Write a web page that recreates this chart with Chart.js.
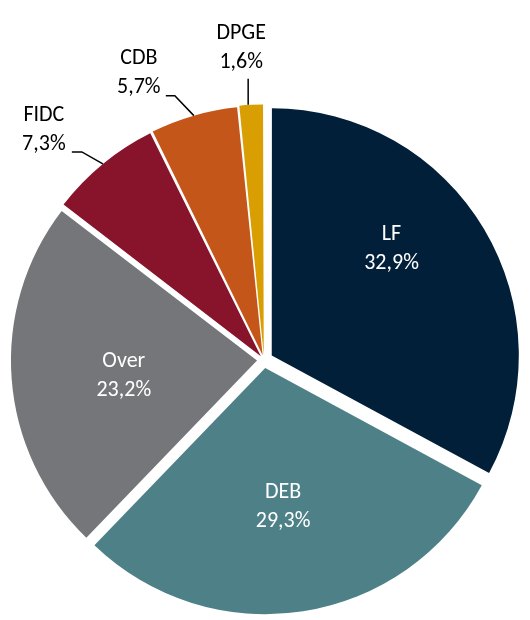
<!DOCTYPE html>
<html>
<head>
<meta charset="utf-8">
<script src="https://cdn.jsdelivr.net/npm/chart.js@4/dist/chart.umd.min.js"></script>
<style>
    html, body { margin: 0; padding: 0; background: #fff; }
    #wrap { width: 530px; height: 620px; position: relative; }
</style>
</head>
<body>
<div id="wrap"><canvas id="pieChart"></canvas></div>
<script>
// data
const categories = ['LF', 'DEB', 'Over', 'FIDC', 'CDB', 'DPGE'];
const shares = [32.9, 29.3, 23.2, 7.3, 5.7, 1.6];
const sliceColors = ['#011f38', '#4d8087', '#747679', '#87142b', '#c4561a', '#d99f02'];
const explode = [36, 32, 28, 20, 20, 20];

const labelFont = '22px Carlito, Lato, sans-serif';
const lineGap = 29;

// inside labels: fraction of radius and turn (deg) from mid angle
const insideLabels = {
    0: { r: 0.65, turn: -10.7 },
    1: { r: 0.57, turn: 1.5 },
    2: { r: 0.545, turn: -2.1 }
};
// outside labels: leader points relative to the slice edge, then text offset from last point
const outsideLabels = {
    3: { leader: [[0, 0], [-21, -12], [-31, -12]], text: [-28, -7] },
    4: { leader: [[0, 0], [-19, -20], [-28, -20]], text: [-27, -8] },
    5: { leader: [[-3, 0], [-3, -26]], text: [-7, -16] }
};

function pctText(v) {
    return v.toFixed(1).replace('.', ',') + '%';
}

const pieLabels = {
    id: 'pieLabels',
    afterDatasetsDraw(chart) {
        const ctx = chart.ctx;
        const meta = chart.getDatasetMeta(0);
        ctx.save();
        ctx.font = labelFont;
        ctx.textAlign = 'center';
        ctx.textBaseline = 'middle';
        meta.data.forEach((arc, i) => {
            const { x, y, startAngle, endAngle, outerRadius, circumference } =
                arc.getProps(['x', 'y', 'startAngle', 'endAngle', 'outerRadius', 'circumference'], true);
            const t = (arc.options.offset || 0) / 4;
            const mid = (startAngle + endAngle) / 2;
            const cx = x + Math.cos(mid) * t;
            const cy = y + Math.sin(mid) * t;
            const name = categories[i];
            const pct = pctText(shares[i]);

            if (insideLabels[i]) {
                const cfg = insideLabels[i];
                const a = mid + cfg.turn * Math.PI / 180;
                const lx = cx + Math.cos(a) * outerRadius * cfg.r;
                const ly = cy + Math.sin(a) * outerRadius * cfg.r;
                ctx.fillStyle = '#ffffff';
                ctx.fillText(name, lx, ly - lineGap / 2);
                ctx.fillText(pct, lx, ly + lineGap / 2);
            } else if (outsideLabels[i]) {
                const cfg = outsideLabels[i];
                const fix = 1 - Math.sin(Math.min(Math.PI, circumference));
                const rr = outerRadius + t * fix;
                const ex = cx + Math.cos(mid) * rr;
                const ey = cy + Math.sin(mid) * rr;
                ctx.strokeStyle = '#000000';
                ctx.lineWidth = 1.5;
                ctx.beginPath();
                cfg.leader.forEach((p, k) => {
                    if (k === 0) ctx.moveTo(ex + p[0], ey + p[1]);
                    else ctx.lineTo(ex + p[0], ey + p[1]);
                });
                ctx.stroke();
                const last = cfg.leader[cfg.leader.length - 1];
                const tx = ex + last[0] + cfg.text[0];
                const ty = ey + last[1] + cfg.text[1];
                ctx.fillStyle = '#000000';
                ctx.fillText(name, tx, ty - lineGap);
                ctx.fillText(pct, tx, ty);
            }
        });
        ctx.restore();
    }
};

const ctx = document.getElementById('pieChart').getContext('2d');
new Chart(ctx, {
    type: 'pie',
    data: {
        labels: categories,
        datasets: [{
            data: shares,
            backgroundColor: sliceColors,
            borderWidth: 0,
            offset: explode,
            hoverOffset: 0,
            radius: 246
        }]
    },
    options: {
        responsive: true,
        maintainAspectRatio: false,
        animation: false,
        events: [],
        layout: { padding: { left: 0, right: 2, top: 100, bottom: 0 } },
        plugins: {
            legend: { display: false },
            tooltip: { enabled: false }
        }
    },
    plugins: [pieLabels]
});
</script>
</body>
</html>
